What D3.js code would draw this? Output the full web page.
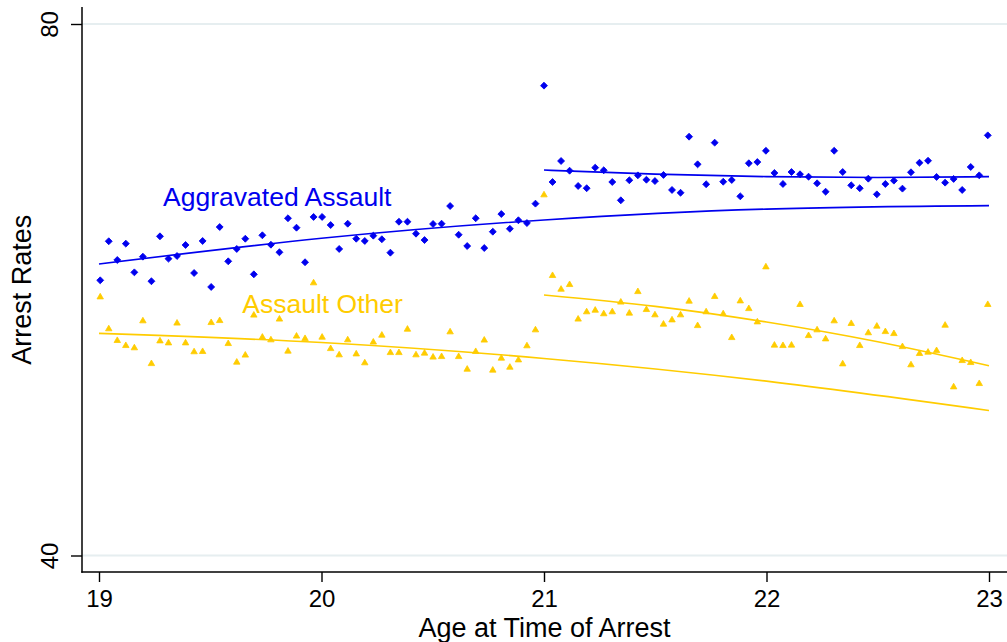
<!DOCTYPE html>
<html>
<head>
<meta charset="utf-8">
<script src="https://cdn.jsdelivr.net/npm/d3@7"></script>
<style>
  html, body { margin: 0; padding: 0; background: #fff; }
  svg { display: block; font-family: "Liberation Sans", Arial, Helvetica, sans-serif; }
</style>
</head>
<body>
<svg id="chart" width="1007" height="642"></svg>
<script>
// Two-week age bins on either side of the 21st birthday
const binDays = 14;
const binOffsets = d3.range(-52, 53);            // bin index relative to age 21
const cutoffAge = 21;

// Arrest rates per bin: aggravated assault
const aggravatedBefore = [
  60.71, 63.65, 62.24, 63.47, 61.31, 62.49, 60.64, 64.02, 62.34, 62.54,
  63.37, 61.26, 63.67, 60.21, 64.72, 62.14, 63.07, 63.84, 61.16, 64.10,
  63.39, 62.82, 65.38, 64.67, 62.07, 65.48, 65.48, 64.87, 63.07, 64.97,
  63.84, 63.67, 64.07, 63.80, 62.79, 65.12, 65.12, 64.22, 63.74, 64.95,
  64.97, 66.30, 64.14, 63.29, 65.38, 63.14, 64.37, 65.70, 64.59, 65.23,
  65.02, 66.48
];
const aggravatedAfter = [
  75.36, 68.11, 69.69, 68.96, 67.81, 67.64, 69.19, 68.99, 68.11, 66.73,
  68.24, 68.61, 68.28, 68.18, 68.64, 67.51, 67.30, 71.52, 69.44, 67.94,
  71.07, 68.13, 68.26, 67.03, 69.52, 69.61, 70.46, 68.79, 67.96, 68.86,
  68.69, 68.51, 68.01, 67.38, 70.46, 68.86, 67.86, 67.64, 68.36, 67.18,
  67.96, 68.21, 67.61, 68.84, 69.56, 69.71, 68.49, 68.06, 68.34, 67.51,
  69.24, 68.61, 71.62
];

// Arrest rates per bin: other assault
const otherBefore = [
  59.45, 57.05, 56.17, 55.79, 55.62, 57.65, 54.43, 56.14, 55.99, 57.48,
  55.99, 55.32, 55.34, 57.52, 57.67, 55.94, 54.54, 55.07, 58.08, 56.42,
  56.22, 57.78, 55.37, 56.50, 56.32, 60.51, 56.42, 55.56, 55.09, 56.22,
  55.16, 54.49, 56.05, 56.57, 55.26, 55.26, 57.02, 55.09, 55.22, 54.92,
  54.96, 56.82, 54.96, 54.01, 55.34, 56.20, 53.94, 54.84, 54.16, 54.71,
  55.77, 56.97
];
const otherAfter = [
  67.13, 61.06, 60.03, 60.38, 57.78, 58.33, 58.45, 58.18, 58.33, 59.06,
  58.23, 59.85, 58.50, 58.10, 57.40, 57.72, 58.10, 59.13, 57.29, 58.33,
  59.48, 58.18, 56.39, 59.15, 58.57, 57.57, 61.71, 55.82, 55.79, 55.82,
  58.88, 56.54, 56.97, 56.29, 57.65, 54.41, 57.45, 55.79, 56.75, 57.25,
  56.84, 56.69, 55.71, 54.34, 55.19, 55.29, 55.41, 57.32, 52.68, 54.66,
  54.51, 52.93, 58.88
];

// Fitted rates: the under-21 fit is carried through age 23,
// the over-21 fit covers ages 21 to 23
const fitAgesBefore = [19, 20, 21, 22, 23];
const fitAgesAfter = [21, 21.5, 22, 22.5, 23];
const aggravatedFitBefore = [61.94, 63.87, 65.25, 66.07, 66.33];
const aggravatedFitAfter = [69.01, 68.70, 68.51, 68.45, 68.51];
const otherFitBefore = [56.72, 56.03, 54.83, 53.12, 50.91];
const otherFitAfter = [59.60, 58.75, 57.57, 56.08, 54.28];

const xTicks = [19, 20, 21, 22, 23];
const yTicks = [40, 80];
const xTitle = "Age at Time of Arrest";
const yTitle = "Arrest Rates";
const seriesNames = ["Aggravated Assault", "Assault Other"];

const BLUE = "#0000ee";
const GOLD = "#ffcc00";

const svg = d3.select("#chart");
svg.append("rect").attr("width", 1007).attr("height", 642).attr("fill", "#fff");

const x = d3.scaleLinear().domain([19, 23]).range([99, 989]);
const y = d3.scaleLinear().domain([40, 80]).range([555.5, 24]);

const ages = binOffsets.map(j => cutoffAge + j * binDays / 365);

function buildSeries(before, after) {
  const vals = before.concat(after);
  return ages.map((a, i) => ({ age: a, rate: vals[i] }));
}
const aggravated = buildSeries(aggravatedBefore, aggravatedAfter);
const other = buildSeries(otherBefore, otherAfter);

// Grid lines at the labelled rates
svg.append("g").selectAll("line").data(yTicks).join("line")
  .attr("x1", 82).attr("x2", 1007)
  .attr("y1", d => y(d)).attr("y2", d => y(d))
  .attr("stroke", "#e6eef0").attr("stroke-width", 2);

// Fitted curves
const fitLine = d3.line().x(d => x(d.age)).y(d => y(d.rate)).curve(d3.curveNatural);
function drawFit(agesArr, rates, color) {
  svg.append("path")
    .datum(agesArr.map((a, i) => ({ age: a, rate: rates[i] })))
    .attr("d", fitLine).attr("fill", "none")
    .attr("stroke", color).attr("stroke-width", 1.6);
}
drawFit(fitAgesBefore, aggravatedFitBefore, BLUE);
drawFit(fitAgesAfter, aggravatedFitAfter, BLUE);
drawFit(fitAgesBefore, otherFitBefore, GOLD);
drawFit(fitAgesAfter, otherFitAfter, GOLD);

// Bin markers
const diamond = d3.symbol().type(d3.symbolSquare).size(24)();
svg.append("g").selectAll("path").data(aggravated).join("path")
  .attr("d", diamond)
  .attr("transform", d => `translate(${x(d.age)},${y(d.rate)}) rotate(45)`)
  .attr("fill", BLUE).attr("stroke", BLUE).attr("stroke-width", 0.8);

const tri = d3.symbol().type(d3.symbolTriangle).size(18)();
svg.append("g").selectAll("path").data(other).join("path")
  .attr("d", tri)
  .attr("transform", d => `translate(${x(d.age)},${y(d.rate)})`)
  .attr("fill", GOLD).attr("stroke", GOLD).attr("stroke-width", 0.8);

// Series labels
svg.append("text").attr("x", x(19.288)).attr("y", y(66.3))
  .attr("fill", BLUE).attr("font-size", 26.5).text(seriesNames[0]);
svg.append("text").attr("x", x(19.644)).attr("y", y(58.27))
  .attr("fill", GOLD).attr("font-size", 26.5).text(seriesNames[1]);

// Y axis
const yAxis = svg.append("g").attr("transform", "translate(82,0)")
  .call(d3.axisLeft(y).tickValues(yTicks).tickSize(11).tickFormat(d3.format("d")));
yAxis.select(".domain").remove();
yAxis.selectAll(".tick line").attr("stroke", "#000").attr("stroke-width", 1.4);
yAxis.selectAll(".tick text")
  .attr("x", null).attr("dy", null)
  .attr("transform", "translate(-24.5,0) rotate(-90)")
  .attr("text-anchor", "middle")
  .attr("font-size", 24).attr("font-family", "Liberation Sans, Arial, sans-serif")
  .attr("fill", "#000");
svg.append("line").attr("x1", 82).attr("x2", 82).attr("y1", 7).attr("y2", 572.7)
  .attr("stroke", "#000").attr("stroke-width", 1.5);

// X axis
const xAxis = svg.append("g").attr("transform", "translate(0,572)")
  .call(d3.axisBottom(x).tickValues(xTicks).tickSize(10).tickFormat(d3.format("d")));
xAxis.select(".domain").remove();
xAxis.selectAll(".tick line").attr("stroke", "#000").attr("stroke-width", 1.4);
xAxis.selectAll(".tick text")
  .attr("y", 35).attr("dy", null)
  .attr("font-size", 24).attr("font-family", "Liberation Sans, Arial, sans-serif")
  .attr("fill", "#000");
svg.append("line").attr("x1", 81.3).attr("x2", 1007).attr("y1", 572).attr("y2", 572)
  .attr("stroke", "#000").attr("stroke-width", 1.5);

// Axis titles
svg.append("text").attr("x", 544.5).attr("y", 637).attr("text-anchor", "middle")
  .attr("font-size", 27).attr("fill", "#000").text(xTitle);
svg.append("text").attr("transform", "translate(31,289.7) rotate(-90)")
  .attr("text-anchor", "middle").attr("font-size", 27).attr("fill", "#000").text(yTitle);
</script>
</body>
</html>
